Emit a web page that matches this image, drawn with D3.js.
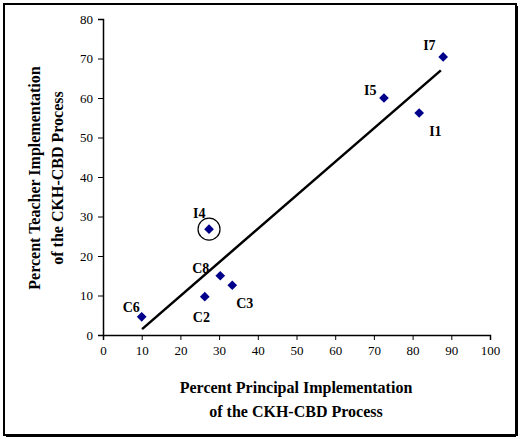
<!DOCTYPE html>
<html><head><meta charset="utf-8">
<script src="https://cdn.jsdelivr.net/npm/d3@7"></script>
<style>body{margin:0;background:#fff}text{font-family:"Liberation Serif","Times New Roman",serif}</style>
</head><body><script>
const labels = ["C6","C2","C8","C3","I4","I5","I1","I7"];
const principal = [10, 26.3, 30.3, 33.4, 27.4, 72.6, 81.7, 87.9];
const teacher = [4.6, 9.7, 15, 12.6, 26.8, 60, 56.2, 70.4];
const trendX = [10.1, 87.3];
const trendY = [1.5, 67];
const xTicks = [0,10,20,30,40,50,60,70,80,90,100];
const yTicks = [0,10,20,30,40,50,60,70,80];
// label offsets [dx, dy]
const labelOff = [[-19,-10],[-12,20],[-28,-8],[4,18],[-16,-16],[-20,-8],[10,18],[-20,-12]];

const W = 520, H = 439;
const svg = d3.select("body").append("svg").attr("width", W).attr("height", H);
svg.append("rect").attr("x",4).attr("y",4).attr("width",W-8).attr("height",H-8)
  .attr("fill","#fff").attr("stroke","#000").attr("stroke-width",2);
svg.append("line").attr("x1",6).attr("x2",W-4).attr("y1",H-3).attr("y2",H-3).attr("stroke","#000").attr("stroke-width",2);
svg.append("line").attr("x1",W-3).attr("x2",W-3).attr("y1",6).attr("y2",H-3).attr("stroke","#000").attr("stroke-width",2);

const x = d3.scaleLinear().domain([0,100]).range([103,490]);
const y = d3.scaleLinear().domain([0,80]).range([335,19]);

const xa = svg.append("g").attr("transform","translate(0,335)")
  .call(d3.axisBottom(x).tickValues(xTicks).tickSize(5).tickPadding(6));
const ya = svg.append("g").attr("transform","translate(103,0)")
  .call(d3.axisLeft(y).tickValues(yTicks).tickSize(5).tickPadding(5));
[xa, ya].forEach(a => {
  a.select(".domain").attr("stroke","#000").attr("stroke-width",1.5);
  a.selectAll("text").attr("font-size",13).attr("font-family","Liberation Sans, Arial, sans-serif");
});

svg.append("line").attr("x1",x(trendX[0])).attr("y1",y(trendY[0]))
  .attr("x2",x(trendX[1])).attr("y2",y(trendY[1])).attr("stroke","#000").attr("stroke-width",2.5);

svg.append("circle").attr("cx",x(principal[4])).attr("cy",y(teacher[4])).attr("r",11)
  .attr("fill","none").attr("stroke","#000").attr("stroke-width",1.2);

svg.selectAll(".pt").data(labels).enter().append("path")
  .attr("d", d3.symbol(d3.symbolDiamond2, 60))
  .attr("transform",(d,i)=>`translate(${x(principal[i])},${y(teacher[i])})`)
  .attr("fill","#00008b");

svg.selectAll(".lb").data(labels).enter().append("text")
  .attr("x",(d,i)=>x(principal[i])+labelOff[i][0])
  .attr("y",(d,i)=>y(teacher[i])+labelOff[i][1]+5)
  .attr("font-size",14).attr("font-weight","bold").text(d=>d);

const xt = svg.append("text").attr("text-anchor","middle").attr("font-size",16).attr("font-weight","bold");
xt.append("tspan").attr("x",296).attr("y",393).text("Percent Principal Implementation");
xt.append("tspan").attr("x",296).attr("y",417).text("of the CKH-CBD Process");
const yt = svg.append("text").attr("text-anchor","middle").attr("font-size",16).attr("font-weight","bold")
  .attr("transform","translate(0,178) rotate(-90)");
yt.append("tspan").attr("x",0).attr("y",40).text("Percent Teacher Implementation");
yt.append("tspan").attr("x",0).attr("y",63).text("of the CKH-CBD Process");
</script></body></html>
